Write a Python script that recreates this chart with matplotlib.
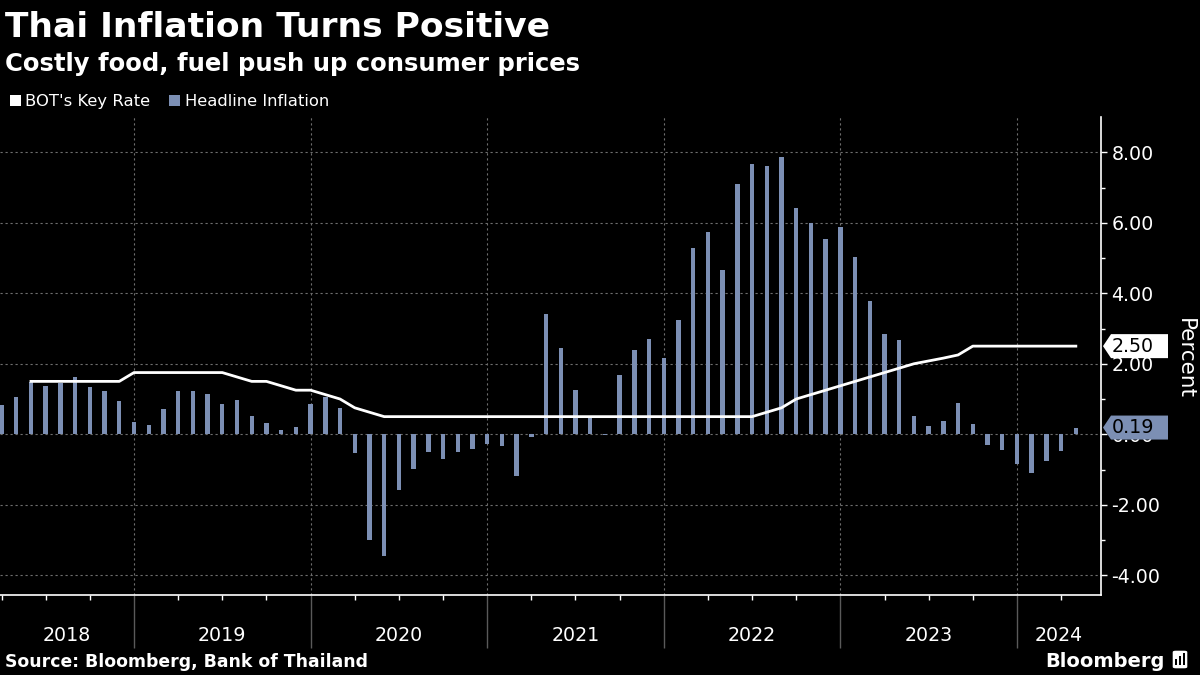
import numpy as np
import pandas as pd
import matplotlib
matplotlib.use("Agg")
import matplotlib.pyplot as plt
from matplotlib.patches import Polygon, Rectangle, FancyBboxPatch
from matplotlib.ticker import FixedLocator, FuncFormatter

# Headline inflation, % y/y, Mar 2018 - Apr 2024
infl_start = "2018-03"
infl_values = [
    0.84, 1.07, 1.49, 1.38, 1.46, 1.62, 1.33, 1.23, 0.94, 0.36,
    0.27, 0.73, 1.24, 1.23, 1.15, 0.87, 0.98, 0.52, 0.32, 0.11, 0.21, 0.87,
    1.05, 0.74, -0.54, -2.99, -3.44, -1.57, -0.98, -0.50, -0.70, -0.50, -0.41, -0.27,
    -0.34, -1.17, -0.08, 3.41, 2.44, 1.25, 0.45, -0.02, 1.68, 2.38, 2.71, 2.17,
    3.23, 5.28, 5.73, 4.65, 7.10, 7.66, 7.61, 7.86, 6.41, 5.98, 5.55, 5.89,
    5.02, 3.79, 2.83, 2.67, 0.53, 0.23, 0.38, 0.88, 0.30, -0.31, -0.44, -0.83,
    -1.11, -0.77, -0.47, 0.19,
]

# BOT key rate, %, May 2018 - Apr 2024 (as drawn)
rate_start = "2018-05"
rate_values = [
    1.5, 1.5, 1.5, 1.5, 1.5, 1.5, 1.5, 1.75,
    1.75, 1.75, 1.75, 1.75, 1.75, 1.75, 1.625, 1.5, 1.5, 1.375, 1.25, 1.25,
    1.125, 1.0, 0.75, 0.625, 0.5, 0.5, 0.5, 0.5, 0.5, 0.5, 0.5, 0.5,
    0.5, 0.5, 0.5, 0.5, 0.5, 0.5, 0.5, 0.5, 0.5, 0.5, 0.5, 0.5,
    0.5, 0.5, 0.5, 0.5, 0.5, 0.5, 0.625, 0.75, 1.0, 1.125, 1.25, 1.375,
    1.5, 1.625, 1.75, 1.875, 2.0, 2.08, 2.16, 2.25, 2.5, 2.5, 2.5, 2.5,
    2.5, 2.5, 2.5, 2.5,
]

years = [2018, 2019, 2020, 2021, 2022, 2023, 2024]
y_ticks = [-4, -2, 0, 2, 4, 6, 8]

BG = "black"
BAR = "#7c8fb4"
GRID = "#6e6e6e"


def month_pos(start, n):
    # month-end position in months since Jan 1 2018
    p = pd.period_range(start, periods=n, freq="M")
    return np.array((p.year - 2018) * 12 + p.month, dtype=float)


t_infl = month_pos(infl_start, len(infl_values))
t_rate = month_pos(rate_start, len(rate_values))

fig = plt.figure(figsize=(12, 6.75), dpi=100, facecolor=BG)
ax = fig.add_axes([0, 1 - 595 / 675, 1101 / 1200, (595 - 117) / 675])
ax.set_facecolor(BG)

ax.bar(t_infl, infl_values, width=0.3, color=BAR, zorder=2)
ax.plot(t_rate, rate_values, color="white", lw=2, zorder=3, solid_joinstyle="round")

ax.set_xlim(2.895, 77.71)
ax.set_ylim(-4.56, 9.0)

# y axis on the right
ax.yaxis.tick_right()
ax.yaxis.set_major_locator(FixedLocator(y_ticks))
ax.yaxis.set_minor_locator(FixedLocator([v + 1 for v in y_ticks[:-1]]))
ax.yaxis.set_major_formatter(FuncFormatter(lambda v, p: f"{v:.2f}"))
ax.tick_params(axis="y", which="major", colors="white", labelsize=13.7,
               length=4.5, width=1, pad=3)
ax.tick_params(axis="y", which="minor", colors="white", length=3, width=1)

# x axis: year boundaries + quarterly ticks
year_bounds = [(y - 2018) * 12 for y in years[1:]]
ax.xaxis.set_major_locator(FixedLocator(year_bounds))
ax.xaxis.set_minor_locator(FixedLocator(np.arange(3, 78, 3)))
ax.tick_params(axis="x", which="major", colors="#5a5a5a", length=38, width=1,
               labelbottom=False)
ax.tick_params(axis="x", which="minor", colors="white", length=3.5, width=1)

for s in ["top", "left"]:
    ax.spines[s].set_visible(False)
ax.spines["right"].set_color("white")
ax.spines["bottom"].set_color("white")
ax.spines["right"].set_linewidth(1.2)
ax.spines["bottom"].set_linewidth(1.2)

ax.grid(True, which="major", axis="both", color=GRID, lw=0.8,
        linestyle=(0, (2, 2.5)), zorder=0)
ax.set_axisbelow(True)

# year labels centred between boundaries
edges = [ax.get_xlim()[0]] + year_bounds + [ax.get_xlim()[1]]
for i, y in enumerate(years):
    ax.text((edges[i] + edges[i + 1]) / 2, -0.085, str(y),
            transform=ax.get_xaxis_transform(), ha="center", va="center",
            color="white", fontsize=13.7)

# right-hand "Percent" label
fig.text(1185 / 1200, 1 - 358 / 675, "Percent", rotation=270, color="white",
         fontsize=15.5, ha="center", va="center")

# value tags at the right axis
fig.canvas.draw()
W, H = 1200, 675


def tag(value, fill):
    _, yd = ax.transData.transform((0, value))
    ypix = H - yd * (H / fig.bbox.height)
    x0, x1, notch, half = 1103, 1168, 8, 12
    pts = [(x0, ypix), (x0 + notch, ypix - half), (x1, ypix - half),
           (x1, ypix + half), (x0 + notch, ypix + half)]
    pts = [(px / W, 1 - py / H) for px, py in pts]
    fig.patches.append(Polygon(pts, closed=True, facecolor=fill, edgecolor="none",
                               transform=fig.transFigure, zorder=5))
    fig.text(1112 / W, 1 - ypix / H, f"{value:.2f}", color="black",
             fontsize=13.7, ha="left", va="center", zorder=6)


tag(rate_values[-1], "white")
tag(infl_values[-1], BAR)

# titles
fig.text(5 / W, 1 - 37 / H, "Thai Inflation Turns Positive", color="white",
         fontsize=24.8, fontweight="bold", va="baseline")
fig.text(5 / W, 1 - 71 / H, "Costly food, fuel push up consumer prices",
         color="white", fontsize=17.5, fontweight="bold", va="baseline")

# legend
fig.patches.append(Rectangle((10 / W, 1 - 106 / H), 11 / W, 11 / H,
                             facecolor="white", transform=fig.transFigure))
fig.text(25 / W, 1 - 106 / H, "BOT's Key Rate", color="white", fontsize=11.8,
         va="baseline")
fig.patches.append(Rectangle((169 / W, 1 - 106 / H), 11 / W, 11 / H,
                             facecolor=BAR, transform=fig.transFigure))
fig.text(185 / W, 1 - 106 / H, "Headline Inflation", color="white",
         fontsize=11.8, va="baseline")

# footer
fig.text(5 / W, 1 - 667 / H, "Source: Bloomberg, Bank of Thailand",
         color="white", fontsize=12.4, fontweight="bold", va="baseline")
fig.text(1165 / W, 1 - 667 / H, "Bloomberg", color="white", fontsize=14,
         fontweight="bold", va="baseline", ha="right")
fig.patches.append(FancyBboxPatch((1172 / W, 1 - 669 / H), 16 / W, 19 / H,
                                  boxstyle="round,pad=0,rounding_size=0.003",
                                  facecolor="white", transform=fig.transFigure))
for k, hgt in enumerate([6, 9, 12]):
    fig.patches.append(Rectangle(((1175 + 4 * k) / W, 1 - 665 / H), 2 / W, hgt / H,
                                 facecolor="black", transform=fig.transFigure))

fig.savefig("out.png", dpi=100, facecolor=BG)
